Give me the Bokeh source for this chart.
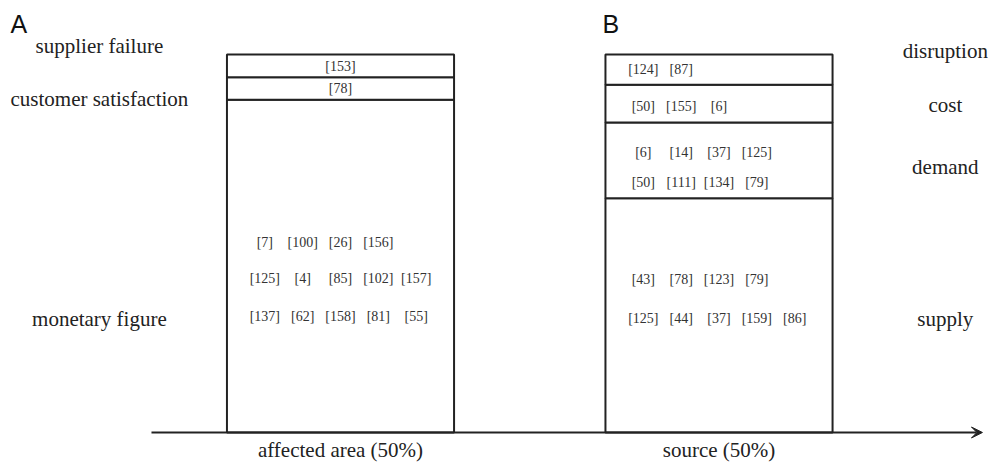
import numpy as np
from bokeh.plotting import figure
from bokeh.models import Range1d, Arrow, VeeHead, ColumnDataSource
from bokeh.core.properties import value
from bokeh.embed import file_html
from bokeh.resources import INLINE

# ---------------- data ----------------
panel_letters = ["A", "B"]
bar_labels = ["affected area (50%)", "source (50%)"]

left_categories = ["monetary figure", "customer satisfaction", "supplier failure"]
left_shares = [88, 6, 6]

right_categories = ["supply", "demand", "cost", "disruption"]
right_shares = [62, 20, 10, 8]

supplier_failure_refs = [[153]]
customer_satisfaction_refs = [[78]]
monetary_figure_refs = [[7, 100, 26, 156], [125, 4, 85, 102, 157], [137, 62, 158, 81, 55]]

disruption_refs = [[124, 87]]
cost_refs = [[50, 155, 6]]
demand_refs = [[6, 14, 37, 125], [50, 111, 134, 79]]
supply_refs = [[43, 78, 123, 79], [125, 44, 37, 159, 86]]

# ---------------- layout ----------------
SERIF = "Liberation Serif"
SANS = "Liberation Sans"
INK = "#222222"
bar_x = [0, 1]
bar_width = 0.6
col_step = 0.1
REF_SHIFT = 1.06     # baseline correction for 14px text (data units)
LAB_SHIFT = 1.85     # baseline correction for 21px text
LET_SHIFT = 2.38     # baseline correction for 25px text

p = figure(width=988, height=462, output_backend="svg", toolbar_location=None,
           x_range=Range1d(-0.8983, 1.7120), y_range=Range1d(-7.937, 114.29),
           min_border=0, outline_line_color=None)
p.axis.visible = False
p.grid.visible = False
p.background_fill_color = "white"
p.border_fill_color = "white"

# stacked segments
def draw_bar(x, shares):
    tops = np.cumsum(shares)
    bottoms = tops - np.array(shares)
    src = ColumnDataSource(dict(x=[x] * len(shares), bottom=bottoms, top=tops))
    p.vbar(x="x", bottom="bottom", top="top", width=bar_width, source=src,
           fill_color="white", line_color=INK, line_width=2)

draw_bar(bar_x[0], left_shares)
draw_bar(bar_x[1], right_shares)

# base axis with arrow
p.add_layout(Arrow(x_start=-0.4994, y_start=0, x_end=1.696, y_end=0,
                   line_color=INK, line_width=2,
                   end=VeeHead(size=11, fill_color=INK, line_color=INK, line_width=1)))

# reference grids
def draw_refs(x_center, rows, baselines, start_cols):
    xs, ys, ts = [], [], []
    for row, yb, c0 in zip(rows, baselines, start_cols):
        for k, r in enumerate(row):
            xs.append(x_center + (c0 + k - 2) * col_step)
            ys.append(yb + REF_SHIFT)
            ts.append("[%d]" % r)
    p.text(x=xs, y=ys, text=ts, text_font=value(SERIF), text_font_size="14px",
           text_color="#333333", text_align="center", text_baseline="alphabetic")

draw_refs(bar_x[0], supplier_failure_refs, [95.9], [2])
draw_refs(bar_x[0], customer_satisfaction_refs, [89.9], [2])
draw_refs(bar_x[0], monetary_figure_refs, [49.3, 39.6, 29.5], [0, 0, 0])
draw_refs(bar_x[1], disruption_refs, [95.1], [0])
draw_refs(bar_x[1], cost_refs, [85.3], [0])
draw_refs(bar_x[1], demand_refs, [73.1, 65.2], [0, 0])
draw_refs(bar_x[1], supply_refs, [39.3, 29.2], [0, 0])

# category labels
left_label_y = [28.3, 86.5, 100.5]
right_label_y = [28.3, 68.5, 84.7, 99.2]
p.text(x=[-0.637] * len(left_categories), y=[v + LAB_SHIFT for v in left_label_y],
       text=left_categories, text_font=value(SERIF), text_font_size="21px",
       text_color=INK, text_align="center", text_baseline="alphabetic")
p.text(x=[1.598] * len(right_categories), y=[v + LAB_SHIFT for v in right_label_y],
       text=right_categories, text_font=value(SERIF), text_font_size="21px",
       text_color=INK, text_align="center", text_baseline="alphabetic")

# bar labels under the axis
p.text(x=bar_x, y=[-6.61 + LAB_SHIFT] * 2, text=bar_labels,
       text_font=value(SERIF), text_font_size="21px", text_color=INK,
       text_align="center", text_baseline="alphabetic")

# panel letters
p.text(x=[-0.872, 0.692], y=[105.6 + LET_SHIFT] * 2, text=panel_letters,
       text_font=value(SANS), text_font_size="25px", text_color="#111111",
       text_align="left", text_baseline="alphabetic")

open("out.html", "w").write(file_html(p, INLINE))
